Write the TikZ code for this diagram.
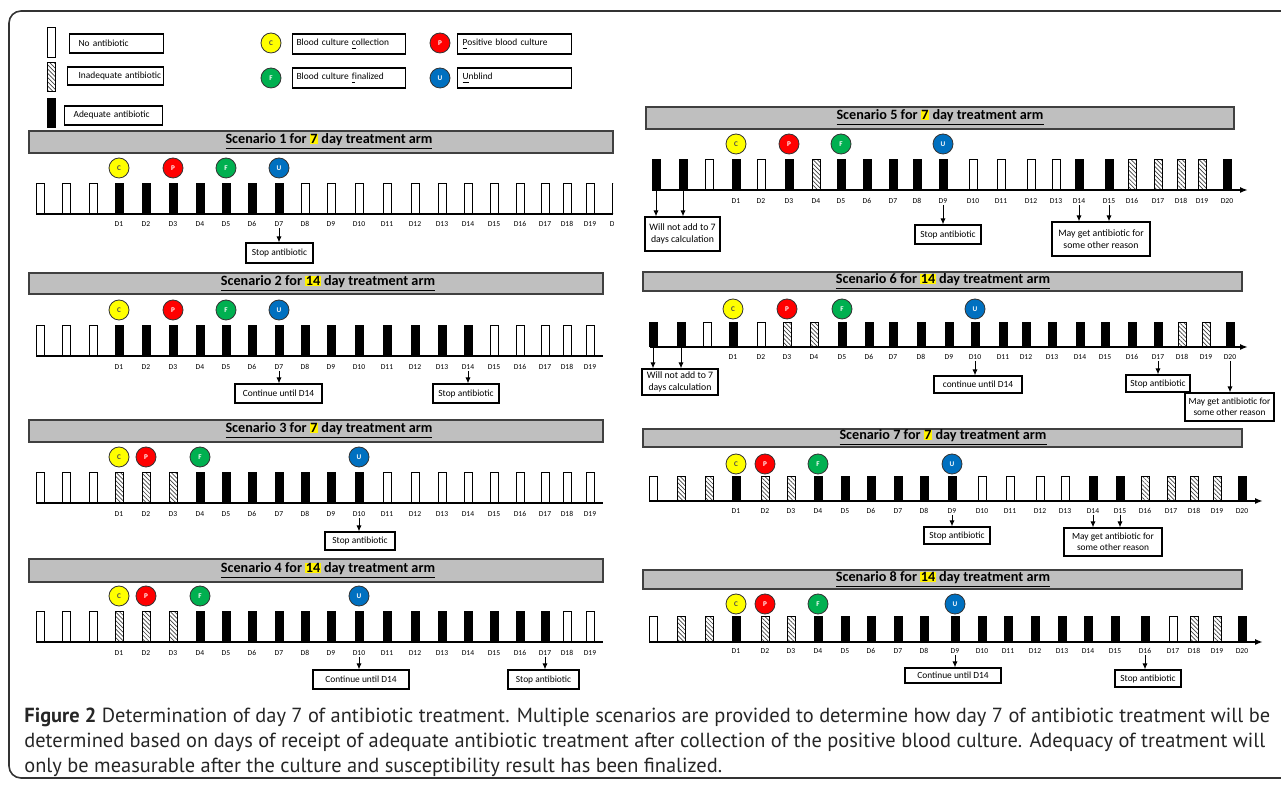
\documentclass[tikz,border=0pt]{standalone}
\usepackage{fontspec}
\setmainfont{Carlito}
\newfontfamily\capfont{PT Sans}
\usetikzlibrary{arrows.meta,patterns.meta}

\definecolor{barfill}{HTML}{BFBFBF}
\definecolor{markc}{HTML}{FFFF00}
\definecolor{markp}{HTML}{FF0000}
\definecolor{markf}{HTML}{00B050}
\definecolor{marku}{HTML}{0070C0}

\newcommand\titlefont{\fontsize{7.1}{8}\selectfont\bfseries}
\newcommand\boxfont{\fontsize{4.7}{5.6}\selectfont}
\newcommand\twofont{\fontsize{4.9}{5.8}\selectfont}
\newcommand\labfont{\fontsize{3.8}{4}\selectfont}
\newcommand\markfont{\fontsize{3.6}{4}\selectfont\bfseries}
\newcommand\daynum[1]{{\setlength{\fboxsep}{0.3pt}\colorbox{yellow}{#1}}}

\tikzset{
  daybar/.style={draw, line width=0.5pt, minimum width=4pt, inner sep=0pt, anchor=south},
  noab/.style={daybar, fill=white},
  inad/.style={daybar, pattern={Lines[angle=-45,distance=1.5pt,line width=0.35pt]}, pattern color=black!75},
  adq/.style={daybar, fill=black},
  disc/.style={circle, draw=black!80, line width=0.4pt, minimum size=10pt, inner sep=0pt, font=\markfont},
  coll/.style={disc, fill=markc, text=black!70},
  posi/.style={disc, fill=markp, text=white},
  fina/.style={disc, fill=markf, text=white},
  unbl/.style={disc, fill=marku, text=white},
  titlebar/.style={draw=black!75, line width=0.8pt, fill=barfill, inner sep=0pt},
  titletext/.style={font=\titlefont, inner sep=0pt},
  daylab/.style={font=\labfont, inner sep=0.5pt},
  remark/.style={draw, line width=0.6pt, inner sep=0pt, font=\boxfont, align=center},
  legbox/.style={draw, line width=0.6pt, inner sep=0pt, anchor=west, align=left, font=\boxfont},
  pointer/.style={-{Latex[length=3pt,width=2.6pt]}, line width=0.5pt},
  axisline/.style={line width=1.1pt},
  axisarrow/.style={line width=1.1pt, -{Latex[length=4pt,width=3pt]}},
  captext/.style={anchor=base west, font=\capfont\fontsize{10.2}{12}\selectfont, inner sep=0pt, text=black!85},
}

\begin{document}
\begin{tikzpicture}[x=0.5pt, y=-0.5pt]
\useasboundingbox (0,0) rectangle (1281,785);
\clip (0,0) rectangle (1281,785);
\draw[draw=black!80, line width=0.8pt, rounded corners=6pt] (9,11) rectangle (1300,778);

% legend
\node[noab, minimum height=15pt] (legnoab) at (51,58) {};
\node[inad, minimum height=14.5pt] (leginad) at (51,92) {};
\node[adq, minimum height=14.5pt] (legadq) at (51,128) {};
\node[legbox, text width=47pt, minimum height=9.5pt] (noabbox) at (69,43.5) {\hspace*{4.5pt}No antibiotic};
\node[legbox, text width=48pt, minimum height=9pt] (inadbox) at (67,76) {\hspace*{5.5pt}Inadequate antibiotic};
\node[legbox, text width=49pt, minimum height=9.5pt] (adqbox) at (64,115.5) {\hspace*{4.5pt}Adequate antibiotic};
\node[coll] (legc) at (271,43) {C};
\node[fina] (legf) at (271,78) {F};
\node[posi] (legp) at (440,43) {P};
\node[unbl] (legu) at (440,78) {U};
\node[legbox, text width=56.5pt, minimum height=10pt] (collbox) at (292,44) {\hspace*{2pt}Blood culture \underline{c}ollection};
\node[legbox, text width=56.5pt, minimum height=10pt] (finbox) at (292,78) {\hspace*{2pt}Blood culture \underline{f}inalized};
\node[legbox, text width=57pt, minimum height=10pt] (posbox) at (457,44) {\hspace*{2.5pt}\underline{P}ositive blood culture};
\node[legbox, text width=57pt, minimum height=10pt] (unbbox) at (457,78) {\hspace*{2.5pt}\underline{U}nblind};

% scenario 1
\node[titlebar, minimum width=292pt, minimum height=11pt] (s1bar) at (321,142) {};
\node[titletext] (s1title) at (329,142) {\underline{Scenario 1 for \daynum{7} day treatment arm}};
\draw[axisline] (36,214) -- (613,214);
\begin{scope}
\clip (29,160) rectangle (613,235);
\foreach \x/\t [count=\i] in {40/noab,66/noab,93/noab,119/adq,146/adq,173/adq,200/adq,226/adq,252/adq,279/adq,305/noab,331/noab,359/noab,387/noab,415/noab,442/noab,468/noab,494/noab,520/noab,545/noab,567/noab,590/noab,616/noab}{
  \node[\t, minimum height=15pt] (s1b\i) at (\x,214) {};
  \pgfmathtruncatemacro\k{\i-3}
  \ifnum\i>3 \node[daylab] (s1d\k) at (\x,224) {D\k}; \fi
}
\end{scope}
\node[coll] (s1c) at (119,168) {C};
\node[posi] (s1p) at (173,168) {P};
\node[fina] (s1f) at (226,168) {F};
\node[unbl] (s1u) at (279,168) {U};
\node[remark, minimum width=33.5pt, minimum height=10pt] (s1stop) at (279.5,253) {Stop antibiotic};
\draw[pointer] (s1d7.south) -- (s1d7.south |- s1stop.north);

% scenario 2
\node[titlebar, minimum width=287pt, minimum height=10.5pt] (s2bar) at (316,283.5) {};
\node[titletext] (s2title) at (328,283.5) {\underline{Scenario 2 for \daynum{14} day treatment arm}};
\draw[axisline] (36,356) -- (603,356);
\foreach \x/\t [count=\i] in {40/noab,66/noab,93/noab,119/adq,146/adq,173/adq,200/adq,226/adq,252/adq,279/adq,305/adq,331/adq,359/adq,387/adq,415/adq,442/adq,468/adq,494/noab,520/noab,545/noab,567/noab,590/noab}{
  \node[\t, minimum height=15pt] (s2b\i) at (\x,356) {};
  \pgfmathtruncatemacro\k{\i-3}
  \ifnum\i>3 \node[daylab] (s2d\k) at (\x,367) {D\k}; \fi
}
\node[coll] (s2c) at (119,310) {C};
\node[posi] (s2p) at (173,310) {P};
\node[fina] (s2f) at (226,310) {F};
\node[unbl] (s2u) at (279,310) {U};
\node[remark, minimum width=43.5pt, minimum height=9.5pt] (s2cont) at (278.5,393.5) {Continue until D14};
\node[remark, minimum width=33pt, minimum height=9.5pt] (s2stop) at (466,393.5) {Stop antibiotic};
\draw[pointer] (s2d7.south) -- (s2d7.south |- s2cont.north);
\draw[pointer] (s2d14.south) -- (s2d14.south |- s2stop.north);

% scenario 3
\node[titlebar, minimum width=287pt, minimum height=11pt] (s3bar) at (316,431) {};
\node[titletext] (s3title) at (329,431) {\underline{Scenario 3 for \daynum{7} day treatment arm}};
\draw[axisline] (36,503) -- (603,503);
\foreach \x/\t [count=\i] in {40/noab,66/noab,93/noab,119/inad,146/inad,173/inad,200/adq,226/adq,252/adq,279/adq,305/adq,331/adq,359/adq,387/noab,415/noab,442/noab,468/noab,494/noab,520/noab,545/noab,567/noab,590/noab}{
  \node[\t, minimum height=15pt] (s3b\i) at (\x,503) {};
  \pgfmathtruncatemacro\k{\i-3}
  \ifnum\i>3 \node[daylab] (s3d\k) at (\x,514) {D\k}; \fi
}
\node[coll] (s3c) at (119,457) {C};
\node[posi] (s3p) at (146,457) {P};
\node[fina] (s3f) at (200,457) {F};
\node[unbl] (s3u) at (359,457) {U};
\node[remark, minimum width=35pt, minimum height=9pt] (s3stop) at (360,541) {Stop antibiotic};
\draw[pointer] (s3d10.south) -- (s3d10.south |- s3stop.north);

% scenario 4
\node[titlebar, minimum width=287pt, minimum height=11.5pt] (s4bar) at (316,570.5) {};
\node[titletext] (s4title) at (328,570.5) {\underline{Scenario 4 for \daynum{14} day treatment arm}};
\draw[axisline] (36,642) -- (603,642);
\foreach \x/\t [count=\i] in {40/noab,66/noab,93/noab,119/inad,146/inad,173/inad,200/adq,226/adq,252/adq,279/adq,305/adq,331/adq,359/adq,387/adq,415/adq,442/adq,468/adq,494/adq,520/adq,545/adq,567/noab,590/noab}{
  \node[\t, minimum height=15pt] (s4b\i) at (\x,642) {};
  \pgfmathtruncatemacro\k{\i-3}
  \ifnum\i>3 \node[daylab] (s4d\k) at (\x,653) {D\k}; \fi
}
\node[coll] (s4c) at (119,596) {C};
\node[posi] (s4p) at (146,596) {P};
\node[fina] (s4f) at (200,596) {F};
\node[unbl] (s4u) at (359,596) {U};
\node[remark, minimum width=48pt, minimum height=9.5pt] (s4cont) at (361,679.5) {Continue until D14};
\node[remark, minimum width=35.5pt, minimum height=9.5pt] (s4stop) at (543.5,679.5) {Stop antibiotic};
\draw[pointer] (s4d10.south) -- (s4d10.south |- s4cont.north);
\draw[pointer] (s4d17.south) -- (s4d17.south |- s4stop.north);

% scenario 5
\node[titlebar, minimum width=294pt, minimum height=11pt] (s5bar) at (940,118) {};
\node[titletext] (s5title) at (940,118) {\underline{Scenario 5 for \daynum{7} day treatment arm}};
\draw[axisarrow] (652,190) -- (1248,190);
\foreach \x/\t [count=\i] in {656/adq,683/adq,709/noab,736/adq,761/noab,789/adq,816/inad,841/adq,867/adq,893/adq,917/adq,943/adq,973/noab,1001/noab,1031/noab,1056/noab,1079/adq,1109/adq,1132/inad,1158/inad,1181/inad,1202/inad,1227/adq}{
  \node[\t, minimum height=15pt] (s5b\i) at (\x,190) {};
  \pgfmathtruncatemacro\k{\i-3}
  \ifnum\i>3 \node[daylab] (s5d\k) at (\x,201) {D\k}; \fi
}
\node[coll] (s5c) at (736,144) {C};
\node[posi] (s5p) at (789,144) {P};
\node[fina] (s5f) at (841,144) {F};
\node[unbl] (s5u) at (943,144) {U};
\node[remark, font=\twofont, minimum width=37.5pt, minimum height=17pt] (s5skip) at (682.5,234) {Will not add to 7\\days calculation};
\node[remark, minimum width=33pt, minimum height=9.5pt] (s5stop) at (948,234.5) {Stop antibiotic};
\node[remark, font=\twofont, minimum width=49pt, minimum height=17pt] (s5other) at (1101,239) {May get antibiotic for\\some other reason};
\draw[pointer] (s5b1.south) -- (s5b1.south |- s5skip.north);
\draw[pointer] (s5b2.south) -- (s5b2.south |- s5skip.north);
\draw[pointer] (s5d9.south) -- (s5d9.south |- s5stop.north);
\draw[pointer] (s5d14.south) -- (s5d14.south |- s5other.north);
\draw[pointer] (s5d15.south) -- (s5d15.south |- s5other.north);

% scenario 6
\node[titlebar, minimum width=299.5pt, minimum height=9.5pt] (s6bar) at (942.5,281.5) {};
\node[titletext] (s6title) at (943,281.5) {\underline{Scenario 6 for \daynum{14} day treatment arm}};
\draw[axisarrow] (650,347) -- (1248,347);
\foreach \x/\t [count=\i] in {653/adq,681/adq,707/noab,733/adq,761/noab,787/inad,814/inad,842/adq,869/adq,893/adq,921/adq,949/adq,975/adq,1003/adq,1026/adq,1052/adq,1080/adq,1105/adq,1132/adq,1158/adq,1182/inad,1206/inad,1230/adq}{
  \node[\t, minimum height=12pt] (s6b\i) at (\x,347) {};
  \pgfmathtruncatemacro\k{\i-3}
  \ifnum\i>3 \node[daylab] (s6d\k) at (\x,357) {D\k}; \fi
}
\node[coll] (s6c) at (733,309) {C};
\node[posi] (s6p) at (787,309) {P};
\node[fina] (s6f) at (842,309) {F};
\node[unbl] (s6u) at (975,309) {U};
\node[remark, font=\twofont, minimum width=38pt, minimum height=13pt] (s6skip) at (680,382) {Will not add to 7\\days calculation};
\node[remark, minimum width=44pt, minimum height=8.5pt] (s6cont) at (978,384.5) {continue until D14};
\node[remark, minimum width=32pt, minimum height=8.5pt] (s6stop) at (1158,383.5) {Stop antibiotic};
\node[remark, minimum width=44.5pt, minimum height=14pt] (s6other) at (1229.5,407) {May get antibiotic for\\some other reason};
\draw[pointer] (s6b1.south) -- (s6b1.south |- s6skip.north);
\draw[pointer] (s6b2.south) -- (s6b2.south |- s6skip.north);
\draw[pointer] (s6d10.south) -- (s6d10.south |- s6cont.north);
\draw[pointer] (s6d17.south) -- (s6d17.south |- s6stop.north);
\draw[pointer] (s6d20.south) -- (s6d20.south |- s6other.north);

% scenario 7
\node[titlebar, minimum width=299.5pt, minimum height=9pt] (s7bar) at (942.5,438) {};
\node[titletext] (s7title) at (943,438) {\underline{Scenario 7 for \daynum{7} day treatment arm}};
\draw[axisarrow] (649,501) -- (1263,501);
\foreach \x/\t [count=\i] in {653/noab,681/inad,709/inad,736/adq,765/inad,791/inad,818/adq,845/adq,871/adq,898/adq,924/adq,952/adq,982/noab,1010/noab,1040/noab,1065/noab,1093/adq,1120/adq,1145/inad,1171/inad,1194/inad,1217/inad,1242/adq}{
  \node[\t, minimum height=12pt] (s7b\i) at (\x,501) {};
  \pgfmathtruncatemacro\k{\i-3}
  \ifnum\i>3 \node[daylab] (s7d\k) at (\x,511) {D\k}; \fi
}
\node[coll] (s7c) at (736,464) {C};
\node[posi] (s7p) at (765,464) {P};
\node[fina] (s7f) at (818,464) {F};
\node[unbl] (s7u) at (952,464) {U};
\node[remark, minimum width=33pt, minimum height=8.5pt] (s7stop) at (957,535.5) {Stop antibiotic};
\node[remark, minimum width=49pt, minimum height=14pt] (s7other) at (1113,542) {May get antibiotic for\\some other reason};
\draw[pointer] (s7d9.south) -- (s7d9.south |- s7stop.north);
\draw[pointer] (s7d14.south) -- (s7d14.south |- s7other.north);
\draw[pointer] (s7d15.south) -- (s7d15.south |- s7other.north);

% scenario 8
\node[titlebar, minimum width=299.5pt, minimum height=9.5pt] (s8bar) at (942.5,579.5) {};
\node[titletext] (s8title) at (943,579.5) {\underline{Scenario 8 for \daynum{14} day treatment arm}};
\draw[axisarrow] (649,642) -- (1263,642);
\foreach \x/\t [count=\i] in {653/noab,681/inad,709/inad,736/adq,765/inad,791/inad,818/adq,845/adq,871/adq,898/adq,924/adq,955/adq,982/adq,1008/adq,1035/adq,1062/adq,1088/adq,1115/adq,1145/adq,1173/noab,1194/inad,1217/inad,1242/adq}{
  \node[\t, minimum height=12.5pt] (s8b\i) at (\x,642) {};
  \pgfmathtruncatemacro\k{\i-3}
  \ifnum\i>3 \node[daylab] (s8d\k) at (\x,651) {D\k}; \fi
}
\node[coll] (s8c) at (736,604) {C};
\node[posi] (s8p) at (765,604) {P};
\node[fina] (s8f) at (818,604) {F};
\node[unbl] (s8u) at (955,604) {U};
\node[remark, minimum width=48pt, minimum height=7.5pt] (s8cont) at (953,675.5) {Continue until D14};
\node[remark, minimum width=33pt, minimum height=8.5pt] (s8stop) at (1148,678.5) {Stop antibiotic};
\draw[pointer] (s8d9.south) -- (s8d9.south |- s8cont.north);
\draw[pointer] (s8d16.south) -- (s8d16.south |- s8stop.north);

% caption
\node[captext] (cap1) at (24,723) {\textbf{Figure 2} Determination of day 7 of antibiotic treatment. Multiple scenarios are provided to determine how day 7 of antibiotic treatment will be};
\node[captext] (cap2) at (24,748) {determined based on days of receipt of adequate antibiotic treatment after collection of the positive blood culture. Adequacy of treatment will};
\node[captext] (cap3) at (24,773) {only be measurable after the culture and susceptibility result has been finalized.};
\end{tikzpicture}
\end{document}
